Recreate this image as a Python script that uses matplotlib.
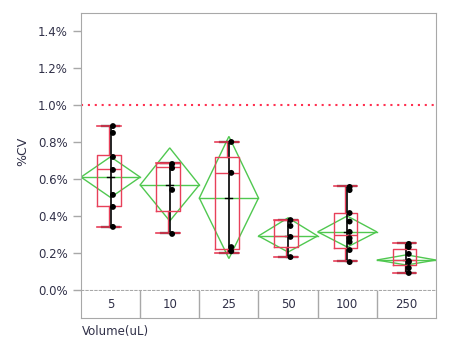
import matplotlib
matplotlib.use("Agg")
import matplotlib.pyplot as plt
from matplotlib.patches import Polygon
import numpy as np

# category labels
volumes = ['5', '10', '25', '50', '100', '250']

# individual %CV values per volume
points = [
    [0.886, 0.849, 0.719, 0.649, 0.514, 0.449, 0.341],
    [0.681, 0.659, 0.541, 0.303],
    [0.80, 0.633, 0.232, 0.21],
    [0.378, 0.346, 0.287, 0.178],
    [0.557, 0.54, 0.416, 0.37, 0.314, 0.28, 0.26, 0.216, 0.151],
    [0.249, 0.232, 0.195, 0.157, 0.151, 0.119, 0.092],
]

# box plot statistics
q1 = [0.454, 0.427, 0.22, 0.233, 0.227, 0.135]
med = [0.654, 0.665, 0.633, 0.292, 0.297, 0.162]
q3 = [0.73, 0.686, 0.72, 0.378, 0.416, 0.222]
lo = [0.341, 0.308, 0.20, 0.178, 0.157, 0.092]
hi = [0.886, 0.686, 0.80, 0.378, 0.562, 0.254]

# means diamonds (mean and 95% CI)
means = [0.61, 0.568, 0.497, 0.292, 0.314, 0.162]
ci_lo = [0.50, 0.373, 0.17, 0.205, 0.232, 0.135]
ci_hi = [0.72, 0.768, 0.83, 0.39, 0.40, 0.19]

limit = 1.0
yticks = [0.0, 0.2, 0.4, 0.6, 0.8, 1.0, 1.2, 1.4]

RED = '#e8405a'
GREEN = '#50c850'
GRAY = '#a8a8a8'
TXT = '#303048'

fig = plt.figure(figsize=(4.66, 3.59), dpi=100)
ax = fig.add_axes([81 / 466, 69 / 359, 355 / 466, 277 / 359])
pos = np.arange(len(volumes))

# mean diamonds
for i in pos:
    diamond = Polygon([[i - 0.5, means[i]], [i, ci_hi[i]], [i + 0.5, means[i]], [i, ci_lo[i]]],
                      closed=True, fill=False, edgecolor=GREEN, lw=1, zorder=2)
    ax.add_patch(diamond)
    ax.plot([i - 0.5, i + 0.5], [means[i], means[i]], color=GREEN, lw=1, zorder=2)

# black range line, caps and mean tick
for i in pos:
    ax.plot([i, i], [lo[i], hi[i]], color='black', lw=1.2, zorder=3)
    ax.plot([i - 0.15, i + 0.15], [lo[i], lo[i]], color='black', lw=1.6, zorder=3)
    ax.plot([i - 0.15, i + 0.15], [hi[i], hi[i]], color='black', lw=1.6, zorder=3)
    ax.plot([i - 0.06, i + 0.06], [means[i], means[i]], color='black', lw=1, zorder=3)

# red box plots
stats = []
for i in pos:
    stats.append(dict(q1=q1[i], med=med[i], q3=q3[i], whislo=lo[i], whishi=hi[i], fliers=[]))
bp = ax.bxp(stats, positions=pos - 0.03, widths=0.4, showfliers=False, capwidths=0.4,
            boxprops=dict(color=RED, lw=1), whiskerprops=dict(color=RED, lw=1),
            capprops=dict(color=RED, lw=1.2), medianprops=dict(color=RED, lw=1),
            manage_ticks=False)
for k in ['boxes', 'medians']:
    for a in bp[k]:
        a.set_zorder(3.5)
for a in bp['whiskers']:
    a.set_zorder(2.8)
for a in bp['caps']:
    a.set_zorder(4)

for i in pos:
    ax.scatter(np.full(len(points[i]), i + 0.04), points[i], s=18, color='black',
               edgecolors='none', zorder=5)

ax.axhline(limit, color='#ff3050', lw=1.5, linestyle=(0, (1, 2.3)), zorder=1)

ax.set_xlim(-0.5, len(volumes) - 0.5)
ax.set_ylim(0, 1.497)
ax.set_xticks([])
ax.set_yticks(yticks)
ax.set_yticklabels([f'{v:.1f}%' for v in yticks], color=TXT, fontsize=8.5)
ax.tick_params(axis='y', color=GRAY, length=6, width=1)
for s in ['left', 'top', 'right']:
    ax.spines[s].set_color(GRAY)
ax.spines['bottom'].set_color(GRAY)
ax.spines['bottom'].set_linestyle((0, (2, 2)))
ax.set_ylabel('%CV', color=TXT, fontsize=9, labelpad=6)

# category row below the plot
cax = fig.add_axes([81 / 466, 41 / 359, 355 / 466, 27 / 359])
cax.set_xlim(-0.5, len(volumes) - 0.5)
cax.set_ylim(0, 1)
cax.set_xticks([])
cax.set_yticks([])
for s in cax.spines.values():
    s.set_color(GRAY)
cax.spines['top'].set_visible(False)
for i in pos[1:]:
    cax.axvline(i - 0.5, color=GRAY, lw=1)
for i, v in enumerate(volumes):
    cax.text(i, 0.5, v, ha='center', va='center', fontsize=8.5, color=TXT)

fig.text(82 / 466, 1 - 332 / 359, 'Volume(uL)', ha='left', va='center', fontsize=8.5, color=TXT)

fig.savefig('out.png', dpi=100)
